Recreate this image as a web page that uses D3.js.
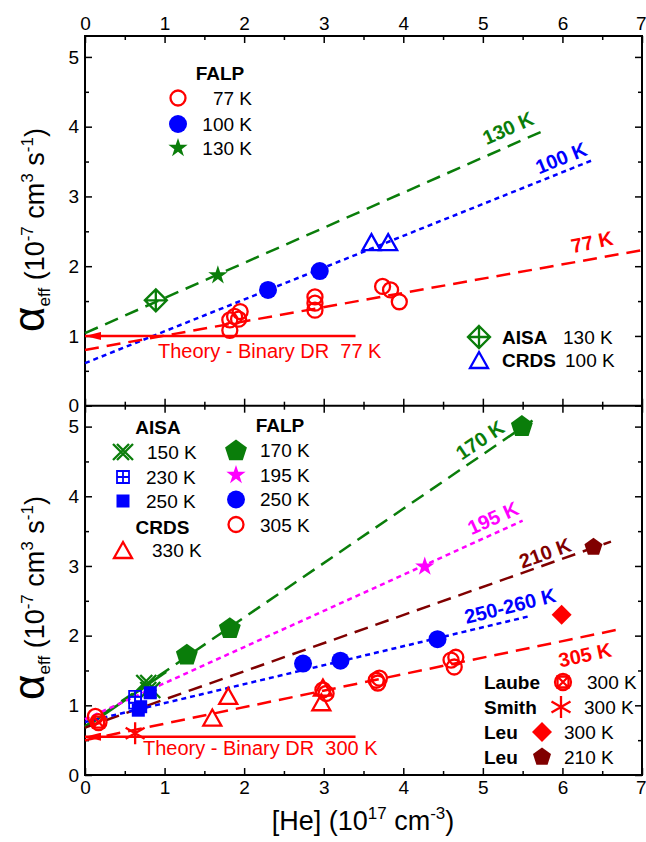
<!DOCTYPE html>
<html><head><meta charset="utf-8">
<script src="https://cdn.jsdelivr.net/npm/d3@7"></script>
<style>body{margin:0;background:#fff} text{font-family:"Liberation Sans",Arial,sans-serif}</style>
</head><body><svg id="c" width="646" height="842"></svg>
<script>
// ---------- data ----------
const xTicks=[0,1,2,3,4,5,6,7];
const yTicks=[0,1,2,3,4,5];
// top panel
const falp77=[[1.82,1.08],[1.82,1.23],[1.88,1.28],[1.95,1.35],[1.93,1.24],[2.89,1.56],[2.89,1.47],[2.89,1.37],[3.74,1.71],[3.84,1.66],[3.95,1.49]];
const falp100=[[2.30,1.66],[2.95,1.93]];
const falp130=[[1.67,1.87]];
const aisa130=[[0.89,1.51]];
const crds100=[[3.60,2.33],[3.81,2.33]];
const fit130=[[0,1.04],[5.78,3.95]];
const fit100=[[0,0.61],[6.4,3.53]];
const fit77=[[0,0.80],[7,2.23]];
const theory77=[[0,1.0],[3.4,1.0]];
// bottom panel
const aisa150=[[0.77,1.32],[0.82,1.22]];
const aisa230=[[0.63,1.12],[0.63,1.04]];
const aisa250=[[0.67,0.93],[0.70,0.98],[0.82,1.18]];
const crds330=[[1.60,0.81],[1.80,1.12],[2.99,1.24],[2.97,1.03]];
const falp170=[[1.28,1.72],[1.82,2.10],[5.49,5.0]];
const falp195=[[4.27,2.99]];
const falp250=[[2.74,1.60],[3.21,1.64],[4.43,1.95]];
const falp305=[[0.13,0.84],[2.99,1.22],[3.03,1.17],[3.66,1.36],[3.70,1.39],[3.68,1.32],[4.60,1.65],[4.66,1.69],[4.64,1.55]];
const laube300=[[0.17,0.76]];
const smith300=[[0.63,0.60]];
const leu300=[[5.99,2.30]];
const leu210=[[6.39,3.27]];
const fit170=[[0,0.70],[5.69,5.14]];
const fit150=[[0,0.68],[1.02,1.48]];
const fit195=[[0,0.80],[5.5,3.65]];
const fit210=[[0,0.68],[6.61,3.35]];
const fit250=[[0,0.76],[5.59,2.28]];
const fit305=[[0,0.50],[6.67,2.08]];
const theory300=[[0,0.55],[3.4,0.55]];

// ---------- setup ----------
const C={green:"#0a7d0a",blue:"#0000ff",red:"#ff0000",mag:"#ff00ff",dred:"#800000",k:"#000"};
const svg=d3.select("#c");
const L=85,R=642,T=36,M=405.7,B=775;
const x=d3.scaleLinear([0,7],[L,R]);
const yT=d3.scaleLinear([0,5.3],[M,T]);
const yB=d3.scaleLinear([0,5.3],[B,M]);
const minorX=d3.range(0.5,7,1), minorY=d3.range(0.5,5.3,1);

function axes(y,showTop,showBottom){
  const g=svg.append("g");
  const mk=(ax,tr,ticks,size,labels)=>{
    const a=g.append("g").attr("transform",tr).call(ax.tickValues(ticks).tickSize(size).tickSizeOuter(0).tickPadding(6).tickFormat(labels?d3.format("d"):()=>""));
    a.select(".domain").remove();
    a.selectAll("line").attr("stroke","#000").attr("stroke-width",1.5);
    a.selectAll("text").attr("font-size",19).attr("fill","#000").style("font-family",'"Liberation Sans",Arial,sans-serif');
    // keep the last x label inside the page
    a.selectAll(".tick").filter(d=>d===7).select("text").attr("text-anchor","end").attr("x",646-R);
  };
  const y0=y.range()[0], y1=y.range()[1];
  mk(d3.axisTop(x),`translate(0,${y1})`,xTicks,-7,showTop);
  mk(d3.axisTop(x),`translate(0,${y1})`,minorX,-4,false);
  mk(d3.axisBottom(x),`translate(0,${y0})`,xTicks,-7,showBottom);
  mk(d3.axisBottom(x),`translate(0,${y0})`,minorX,-4,false);
  mk(d3.axisLeft(y),`translate(${L},0)`,yTicks,-7,true);
  mk(d3.axisLeft(y),`translate(${L},0)`,minorY,-4,false);
  mk(d3.axisRight(y),`translate(${R},0)`,yTicks,-7,false);
  mk(d3.axisRight(y),`translate(${R},0)`,minorY,-4,false);
}
axes(yT,true,false);
axes(yB,false,true);
svg.append("rect").attr("x",L).attr("y",T).attr("width",R-L).attr("height",B-T).attr("fill","none").attr("stroke","#000").attr("stroke-width",2);
svg.append("line").attr("x1",L).attr("x2",R).attr("y1",M).attr("y2",M).attr("stroke","#000").attr("stroke-width",2);

// arrow marker
const defs=svg.append("defs");
defs.append("marker").attr("id","arr").attr("viewBox","0 0 16 8").attr("refX",0).attr("refY",4)
  .attr("markerWidth",16).attr("markerHeight",8).attr("markerUnits","userSpaceOnUse").attr("orient","auto")
  .append("path").attr("d","M16,0 L0,4 L16,8 Z").attr("fill",C.red);

function fitLine(data,y,color,dash,w){
  svg.append("path").attr("d",d3.line().x(d=>x(d[0])).y(d=>y(d[1]))(data))
    .attr("fill","none").attr("stroke",color).attr("stroke-width",w||2.5).attr("stroke-dasharray",dash||null);
}
function theoryLine(data,y){
  svg.append("line").attr("x1",x(data[0][0])).attr("y1",y(data[0][1])).attr("x2",x(data[1][0])).attr("y2",y(data[1][1]))
    .attr("stroke",C.red).attr("stroke-width",2.5).attr("marker-start","url(#arr)");
}
const LD="14,8", SD="5,4";

// marker
function marker(type,cx,cy,color){
  const g=svg.append("g").attr("transform",`translate(${cx},${cy})`);
  const sw=2.3;
  const stroke=s=>s.attr("fill","none").attr("stroke",color).attr("stroke-width",sw);
  switch(type){
    case "ocircle": stroke(g.append("circle").attr("r",7.5)); break;
    case "fcircle": g.append("circle").attr("r",9).attr("fill",color); break;
    case "star": g.append("path").attr("d",d3.symbol(d3.symbolStar,115)()).attr("fill",color); break;
    case "xdiamond": stroke(g.append("path").attr("d","M0,-11L11,0L0,11L-11,0ZM0,-11V11M-11,0H11")); break;
    case "otri": stroke(g.append("path").attr("d","M0,-9L9,7L-9,7Z")).attr("stroke-linejoin","miter"); break;
    case "xx": stroke(g.append("path").attr("d","M-10,-8L6,8M-6,-8L10,8M6,-8L-10,8M10,-8L-6,8")); break;
    case "gsquare": g.append("path").attr("d","M-6,-6H6V6H-6ZM0,-6V6M-6,0H6").attr("fill","none").attr("stroke",color).attr("stroke-width",1.8); break;
    case "fsquare": g.append("rect").attr("x",-6.5).attr("y",-6.5).attr("width",13).attr("height",13).attr("fill",color); break;
    case "pent": {const r=11.5;const p=d3.range(5).map(k=>{const a=-Math.PI/2+k*2*Math.PI/5;return[r*Math.cos(a),r*Math.sin(a)]});
      g.append("path").attr("d","M"+p.join("L")+"Z").attr("fill",color); break;}
    case "spent": {const r=9.5;const p=d3.range(5).map(k=>{const a=-Math.PI/2+k*2*Math.PI/5;return[r*Math.cos(a),r*Math.sin(a)]});
      g.append("path").attr("d","M"+p.join("L")+"Z").attr("fill",color); break;}
    case "laube": stroke(g.append("circle").attr("r",8)); stroke(g.append("path").attr("d","M-5.5,-5.5H5.5V5.5H-5.5ZM-5.5,-5.5L5.5,5.5M5.5,-5.5L-5.5,5.5")); break;
    case "aster": stroke(g.append("path").attr("d","M0,-11V11M-9.5,-5.5L9.5,5.5M9.5,-5.5L-9.5,5.5")); break;
    case "fdiamond": g.append("path").attr("d","M0,-10L10,0L0,10L-10,0Z").attr("fill",color); break;
  }
}
function pts(data,y,type,color){data.forEach(d=>marker(type,x(d[0]),y(d[1]),color));}

function txt(s,px,py,opt){
  opt=opt||{};
  const t=svg.append("text").attr("x",px).attr("y",py).attr("font-size",opt.size||19)
    .attr("fill",opt.color||"#000").attr("font-weight",opt.bold?"bold":null).attr("text-anchor",opt.anchor||"start")
    .style("white-space","pre").text(s);
  if(opt.rot!=null) t.attr("transform",`rotate(${opt.rot},${px},${py})`).attr("dy","0.35em");
  return t;
}

// ---------- top panel ----------
fitLine(fit130,yT,C.green,LD);
fitLine(fit100,yT,C.blue,SD);
fitLine(fit77,yT,C.red,LD);
theoryLine(theory77,yT);
pts(falp77,yT,"ocircle",C.red);
pts(falp100,yT,"fcircle",C.blue);
pts(falp130,yT,"star",C.green);
pts(aisa130,yT,"xdiamond",C.green);
pts(crds100,yT,"otri",C.blue);
txt("Theory - Binary DR  77 K",158,358,{color:C.red,size:20});
txt("130 K",508,128,{color:C.green,bold:true,rot:-24,anchor:"middle",size:20});
txt("100 K",561,158,{color:C.blue,bold:true,rot:-22,anchor:"middle",size:20});
txt("77 K",592,242,{color:C.red,bold:true,rot:-12,anchor:"middle",size:20});
// legends top
txt("FALP",220,80,{bold:true,anchor:"middle"});
marker("ocircle",178,98,C.red); txt("77 K",252,105,{anchor:"end"});
marker("fcircle",178,124,C.blue); txt("100 K",252,131,{anchor:"end"});
marker("star",178,148,C.green); txt("130 K",252,155,{anchor:"end"});
marker("xdiamond",479,337,C.green); txt("AISA",502,343.5,{bold:true}); txt("130 K",563,343.5);
marker("otri",479,361,C.blue); txt("CRDS",502,367,{bold:true}); txt("100 K",565,367);

// ---------- bottom panel ----------
fitLine(fit170,yB,C.green,LD);
fitLine(fit150,yB,C.green,null);
fitLine(fit195,yB,C.mag,SD);
fitLine(fit210,yB,C.dred,LD);
fitLine(fit250,yB,C.blue,SD);
fitLine(fit305,yB,C.red,LD);
theoryLine(theory300,yB);
pts(aisa150,yB,"xx",C.green);
pts(aisa230,yB,"gsquare",C.blue);
pts(aisa250,yB,"fsquare",C.blue);
pts(crds330,yB,"otri",C.red);
pts(falp170,yB,"pent",C.green);
pts(falp195,yB,"star",C.mag);
pts(falp250,yB,"fcircle",C.blue);
pts(falp305,yB,"ocircle",C.red);
pts(laube300,yB,"laube",C.red);
pts(smith300,yB,"aster",C.red);
pts(leu300,yB,"fdiamond",C.red);
pts(leu210,yB,"spent",C.dred);
txt("Theory - Binary DR  300 K",143,755,{color:C.red,size:20});
txt("170 K",480,440,{color:C.green,bold:true,rot:-34,anchor:"middle",size:20});
txt("195 K",493,518,{color:C.mag,bold:true,rot:-24,anchor:"middle",size:20});
txt("210 K",545,553,{color:C.dred,bold:true,rot:-20,anchor:"middle",size:20});
txt("250-260 K",510,606,{color:C.blue,bold:true,rot:-14,anchor:"middle",size:20});
txt("305 K",585,655,{color:C.red,bold:true,rot:-12,anchor:"middle",size:20});
// legends bottom
txt("AISA",158,433.5,{bold:true,anchor:"middle"});
marker("xx",123,452,C.green); txt("150 K",147,458.5);
marker("gsquare",123,477,C.blue); txt("230 K",146,483.5);
marker("fsquare",123,501,C.blue); txt("250 K",146,507.5);
txt("CRDS",162.5,533.5,{bold:true,anchor:"middle"});
marker("otri",123,551,C.red); txt("330 K",152,557);
txt("FALP",280,431.5,{bold:true,anchor:"middle"});
marker("pent",236,451,C.green); txt("170 K",260,457);
marker("star",236,475,C.mag); txt("195 K",260,482);
marker("fcircle",236,499.5,C.blue); txt("250 K",260,506);
marker("ocircle",236,524.5,C.red); txt("305 K",260,531.5);
txt("Laube",484,688.5,{bold:true}); marker("laube",563,682,C.red); txt("300 K",587,688.5);
txt("Smith",484,713.5,{bold:true}); marker("aster",561,707,C.red); txt("300 K",584,713.5);
txt("Leu",484,738.5,{bold:true}); marker("fdiamond",542,732,C.red); txt("300 K",564,738.5);
txt("Leu",484,763.5,{bold:true}); marker("spent",542,757,C.dred); txt("210 K",564,763.5);

// ---------- axis titles ----------
function ytitle(cy){
  const t=svg.append("text").attr("transform",`translate(44,${cy}) rotate(-90)`).attr("text-anchor","middle").attr("font-size",27);
  t.append("tspan").attr("font-size",44).text("α");
  t.append("tspan").attr("font-size",17).attr("dy",6).text("eff");
  t.append("tspan").attr("dy",-6).text(" (10");
  t.append("tspan").attr("font-size",17).attr("dy",-11).text("-7");
  t.append("tspan").attr("dy",11).text(" cm");
  t.append("tspan").attr("font-size",17).attr("dy",-11).text("3");
  t.append("tspan").attr("dy",11).text(" s");
  t.append("tspan").attr("font-size",17).attr("dy",-11).text("-1");
  t.append("tspan").attr("dy",11).text(")");
}
ytitle(230); ytitle(598);
{
  const t=svg.append("text").attr("x",363).attr("y",830).attr("text-anchor","middle").attr("font-size",27);
  t.append("tspan").text("[He] (10");
  t.append("tspan").attr("font-size",17).attr("dy",-11).text("17");
  t.append("tspan").attr("dy",11).text(" cm");
  t.append("tspan").attr("font-size",17).attr("dy",-11).text("-3");
  t.append("tspan").attr("dy",11).text(")");
}
</script></body></html>
